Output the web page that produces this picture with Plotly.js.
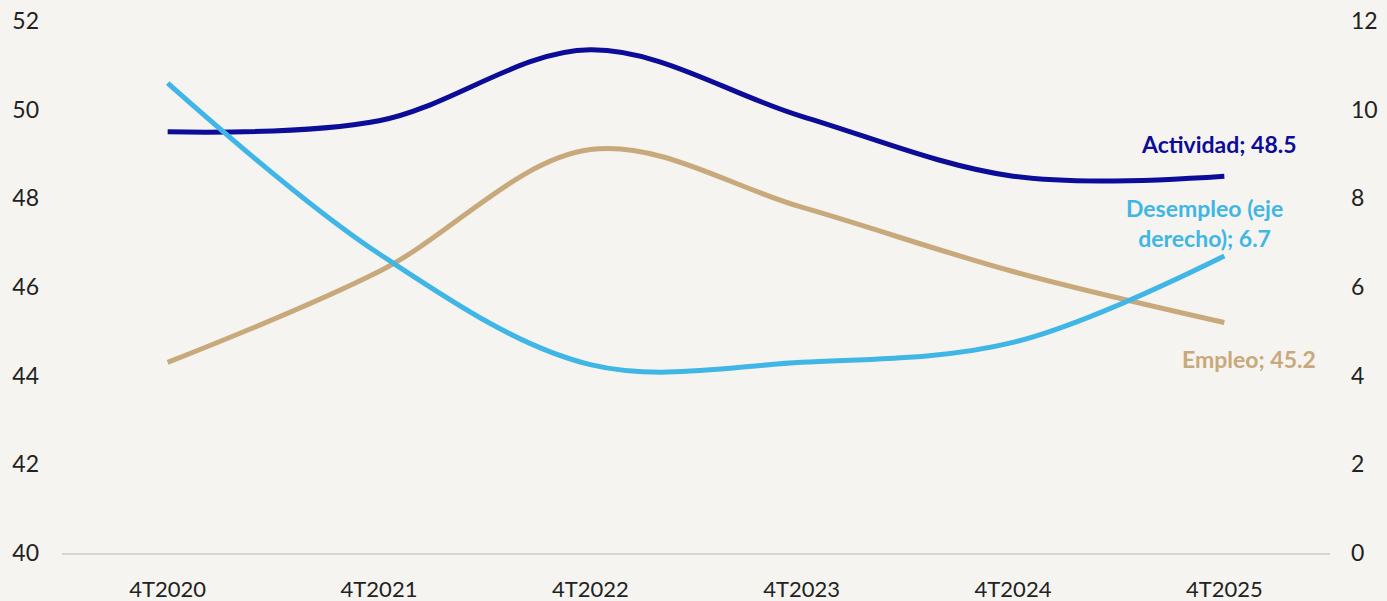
<!DOCTYPE html>
<html><head><meta charset="utf-8">
<script src="https://cdn.plot.ly/plotly-3.0.1.min.js"></script>
<style>html,body{margin:0;padding:0;background:#f5f4f0;}#chart{width:1387px;height:601px;}</style>
</head><body><div id="chart"></div>
<script>
const categories = ['4T2020','4T2021','4T2022','4T2023','4T2024','4T2025'];
const actividad = [49.5, 49.75, 51.35, 49.85, 48.5, 48.5];
const empleo = [44.3, 46.35, 49.1, 47.8, 46.35, 45.2];
const desempleo = [10.6, 6.75, 4.25, 4.3, 4.75, 6.7];
const FONT = 'Lato, "Open Sans", sans-serif';

const traces = [
  {x: categories, y: empleo, name: 'Empleo', type: 'scatter', mode: 'lines',
   line: {color: '#c8a97b', width: 5, shape: 'spline', smoothing: 1}, yaxis: 'y'},
  {x: categories, y: desempleo, name: 'Desempleo (eje derecho)', type: 'scatter', mode: 'lines',
   line: {color: '#3fb6e6', width: 5, shape: 'spline', smoothing: 1}, yaxis: 'y2'},
  {x: categories, y: actividad, name: 'Actividad', type: 'scatter', mode: 'lines',
   line: {color: '#0c0c98', width: 5, shape: 'spline', smoothing: 1}, yaxis: 'y'}
];

const layout = {
  width: 1387, height: 601,
  paper_bgcolor: '#f5f4f0', plot_bgcolor: '#f5f4f0',
  margin: {l: 62, r: 57, t: 21, b: 48},
  showlegend: false,
  font: {family: FONT, size: 23, color: '#222'},
  xaxis: {type: 'category', range: [-0.5, 5.5], showgrid: false, zeroline: false,
          showline: true, linecolor: '#d6d6d6', linewidth: 2, ticks: '',
          tickfont: {family: FONT, size: 22, color: '#222'}, ticklabelstandoff: 16},
  yaxis: {range: [40, 52], dtick: 2, showgrid: false, zeroline: false, showline: false,
          tickfont: {family: FONT, size: 23, color: '#222'}, ticklabelstandoff: 22},
  yaxis2: {range: [0, 12], dtick: 2, overlaying: 'y', side: 'right', showgrid: false,
           zeroline: false, showline: false,
           tickfont: {family: FONT, size: 23, color: '#222'}, ticklabelstandoff: 20},
  annotations: [
    {x: categories[5], y: actividad[5], xref: 'x', yref: 'y', text: '<b>Actividad; ' + actividad[5] + '</b>',
     showarrow: false, xshift: -5, yshift: 32, font: {family: FONT, size: 23, color: '#0c0c98'}},
    {x: categories[5], y: desempleo[5], xref: 'x', yref: 'y2', text: '<b>Desempleo (eje<br>derecho); ' + desempleo[5] + '</b>',
     showarrow: false, xshift: -20, yshift: 33, font: {family: FONT, size: 23, color: '#3fb6e6'}},
    {x: categories[5], y: empleo[5], xref: 'x', yref: 'y', text: '<b>Empleo; ' + empleo[5] + '</b>',
     showarrow: false, xshift: 25, yshift: -37, font: {family: FONT, size: 23, color: '#c8a97b'}}
  ]
};
Plotly.newPlot('chart', traces, layout, {displayModeBar: false, staticPlot: true});
</script></body></html>
